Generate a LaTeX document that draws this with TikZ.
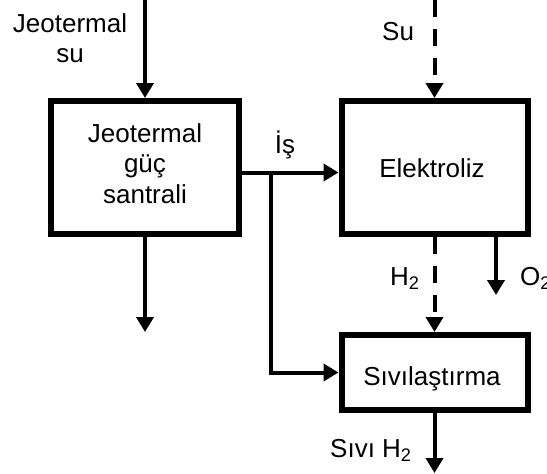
\documentclass[tikz,border=0pt]{standalone}
\usepackage{fontspec}
\setmainfont{Liberation Sans}
\usetikzlibrary{arrows.meta}
\begin{document}
\begin{tikzpicture}[x=1pt,y=-1pt,
  font=\fontsize{26}{30.5}\selectfont,
  box/.style={draw, line width=6pt, inner sep=0pt},
  lbl/.style={inner sep=0pt, align=center},
  flow/.style={line width=4pt, -{Triangle[width=17pt,length=15pt]}},
  dflow/.style={flow, dash pattern=on 17pt off 12pt}]
\useasboundingbox (0,0) rectangle (547,474);

% boxes
\node[box, minimum width=188pt, minimum height=133pt] (geo) at (145,167.5) {};
\node[box, minimum width=186pt, minimum height=133pt] (el) at (434.5,167.5) {};
\node[box, minimum width=186pt, minimum height=75pt] (liq) at (434.5,372.5) {};

% box texts
\node[lbl, anchor=north] (geot) at (145,123.4) {Jeotermal\\güç\\santrali};
\node[lbl, anchor=base] (elt) at (432,177) {Elektroliz};
\node[lbl, anchor=base] (liqt) at (432,385) {Sıvılaştırma};

% labels
\node[lbl, anchor=north] (gsu) at (70,13.4) {Jeotermal\\su};
\node[lbl, anchor=base west] (su) at (382,40) {Su};
\node[lbl, anchor=base] (is) at (285,153) {İş};
\node[lbl, anchor=base west] (h2) at (390,285) {H\textsubscript{2}};
\node[lbl, anchor=base west] (o2) at (520,285) {O\textsubscript{2}};
\node[lbl, anchor=base west] (sh2) at (330,457) {Sıvı H\textsubscript{2}};

% free ends
\coordinate (gin) at (145,0);
\coordinate (suin) at (434.5,0);
\coordinate (gout) at (145,332);
\coordinate (o2e) at (496,295);
\coordinate (lout) at (434.5,473);
\coordinate (j) at (271,172.5);

% connectors
\draw[flow] (gin) -- (geo.north);
\draw[dflow] (suin) -- (el.north);
\draw[flow] (geo.south) -- (gout);
\draw[line width=4pt] (geo.east |- j) -- (j);
\draw[flow] (j) -- (el.west |- j);
\draw[flow] (j) |- (liq.west);
\draw[dflow] (el.south) -- (liq.north);
\draw[flow] (el.south -| o2e) -- (o2e);
\draw[flow] (liq.south) -- (lout);
\end{tikzpicture}
\end{document}
